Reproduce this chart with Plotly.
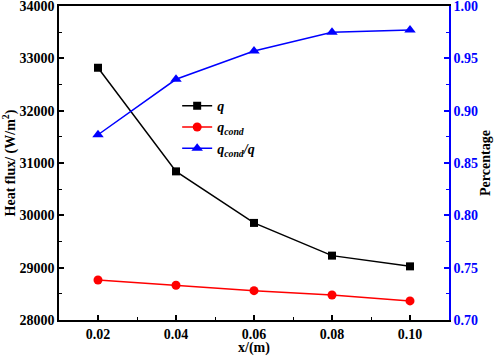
import plotly.graph_objects as go

x_vals = [0.02, 0.04, 0.06, 0.08, 0.10]
q_vals = [32820, 30840, 29855, 29230, 29025]
qcond_vals = [28765, 28665, 28560, 28478, 28365]
ratio_vals = [0.877, 0.930, 0.957, 0.975, 0.977]

x_ticks = [0.02, 0.04, 0.06, 0.08, 0.10]
y_ticks = [28000, 29000, 30000, 31000, 32000, 33000, 34000]
y2_ticks = [0.70, 0.75, 0.80, 0.85, 0.90, 0.95, 1.00]

FONT = "Liberation Serif"

fig = go.Figure()
fig.add_trace(go.Scatter(x=x_vals, y=q_vals, mode="lines+markers", name="<b><i>q</i></b>",
                         line=dict(color="black", width=1.5),
                         marker=dict(symbol="square", size=8, color="black")))
fig.add_trace(go.Scatter(x=x_vals, y=qcond_vals, mode="lines+markers", name="<b><i>q<sub>cond</sub></i></b>",
                         line=dict(color="red", width=1.5),
                         marker=dict(symbol="circle", size=9, color="red")))
fig.add_trace(go.Scatter(x=x_vals, y=ratio_vals, mode="lines+markers", name="<b><i>q<sub>cond</sub>/q</i></b>",
                         yaxis="y2",
                         line=dict(color="blue", width=1.5),
                         marker=dict(symbol="triangle-up", size=10, color="blue")))

fig.update_layout(
    width=498, height=356,
    margin=dict(l=59, r=49, t=6, b=36),
    plot_bgcolor="white", paper_bgcolor="white",
    font=dict(family=FONT, size=14, color="black"),
    showlegend=True,
    legend=dict(x=0.303, y=0.732, xanchor="left", yanchor="top", bgcolor="rgba(0,0,0,0)",
                font=dict(family=FONT, size=14), tracegroupgap=0),
    xaxis=dict(range=[0.01, 0.11], tickvals=x_ticks,
               ticktext=["<b>%.2f</b>" % v for v in x_ticks],
               ticks="inside", ticklen=5, tickwidth=1.5, tickcolor="black",
               minor=dict(dtick=0.01, tick0=0.01, ticks="inside", ticklen=3, tickcolor="black", tickwidth=1),
               showline=True, linecolor="black", linewidth=1.5, mirror=True,
               showgrid=False, zeroline=False, automargin=False, ticklabeloverflow="allow",
               title=dict(text="<b>x/(m)</b>", font=dict(family=FONT, size=14), standoff=3),
               tickfont=dict(family=FONT, size=14)),
    yaxis=dict(range=[28000, 34000], tickvals=y_ticks,
               ticktext=["<b>%d</b>" % v for v in y_ticks],
               ticks="inside", ticklen=5, tickwidth=1.5, tickcolor="black",
               minor=dict(dtick=500, tick0=28000, ticks="inside", ticklen=3, tickcolor="black", tickwidth=1),
               showline=True, linecolor="black", linewidth=1.5,
               showgrid=False, zeroline=False, automargin=False, ticklabeloverflow="allow",
               title=dict(text="<b>Heat flux/ (W/m<sup>2</sup>)</b>", font=dict(family=FONT, size=14), standoff=2),
               tickfont=dict(family=FONT, size=14)),
    yaxis2=dict(range=[0.70, 1.00], overlaying="y", side="right", tickvals=y2_ticks,
                ticktext=["<b>%.2f</b>" % v for v in y2_ticks],
                ticks="inside", ticklen=5, tickwidth=1.5, tickcolor="blue",
                minor=dict(dtick=0.025, tick0=0.70, ticks="inside", ticklen=3, tickcolor="blue", tickwidth=1),
                showline=True, linecolor="blue", linewidth=1.5,
                showgrid=False, zeroline=False, automargin=False, ticklabeloverflow="allow",
                title=dict(text="<b>Percentage</b>", font=dict(family=FONT, size=14, color="black"), standoff=2),
                tickfont=dict(family=FONT, size=14, color="blue")),
)

fig.write_html("out.html", config={"displayModeBar": False},
               post_script="document.body.style.margin='0';document.body.style.padding='0';document.body.style.overflow='hidden';")
